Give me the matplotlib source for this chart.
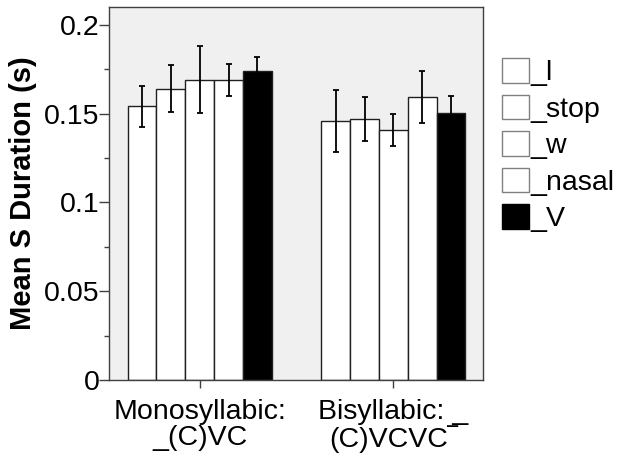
import numpy as np
import matplotlib.pyplot as plt
from matplotlib.ticker import MultipleLocator

plt.rcParams['font.family'] = ['Liberation Sans', 'DejaVu Sans']

# data
groups = ['Monosyllabic:\n_(C)VC', 'Bisyllabic: _\n(C)VCVC\u203e']
series = ['_l', '_stop', '_w', '_nasal', '_V']
means = [[0.154, 0.164, 0.169, 0.169, 0.1737],
         [0.1459, 0.1468, 0.1408, 0.1594, 0.1504]]
errs = [[0.0113, 0.0132, 0.0189, 0.009, 0.0084],
        [0.0173, 0.0124, 0.0088, 0.0148, 0.0096]]
faces = ['white', 'white', 'white', 'white', 'black']

means = np.array(means)
errs = np.array(errs)

fig = plt.figure(figsize=(6.21, 4.55), dpi=100)
ax = fig.add_axes([0.1763, 0.1648, 0.7778 - 0.1763, 0.9846 - 0.1648])
ax.set_facecolor('#f0f0f0')

x = np.arange(len(groups))
w = 0.1488
bars = []
for i, s in enumerate(series):
    pos = x + (i - 2) * w
    b = ax.bar(pos, means[:, i], w, color=faces[i], edgecolor='#202020',
               linewidth=1.0, zorder=2)
    ax.errorbar(pos, means[:, i], yerr=errs[:, i], fmt='none', ecolor='black',
                elinewidth=1.3, capsize=2.5, capthick=1.3, zorder=3)
    bars.append(b)

ax.set_xlim(-0.466, 1.463)
ax.set_ylim(0, 0.21)
ax.set_xticks(x)
ax.set_xticklabels(groups, fontsize=20.5, linespacing=1.0)
ax.yaxis.set_minor_locator(MultipleLocator(0.025))
ax.set_yticks([0, 0.05, 0.1, 0.15, 0.2])
ax.set_yticklabels(['0', '0.05', '0.1', '0.15', '0.2'], fontsize=20.5)
ax.tick_params(axis='x', which='major', direction='out', color='#404040',
               length=6, width=1, pad=8)
ax.tick_params(axis='y', which='major', direction='out', color='#404040',
               length=7, width=1, pad=0)
ax.tick_params(axis='y', which='minor', direction='out', color='#404040',
               length=3.6, width=1)
ax.tick_params(right=False, top=False)
for sp in ax.spines.values():
    sp.set_color('#404040')
    sp.set_linewidth(1)

ax.set_ylabel('Mean S Duration (s)', fontsize=21, fontweight='bold', labelpad=5)

handles = [b[0] for b in bars]
leg = fig.legend(handles, series, loc='upper left',
                 bbox_to_anchor=(502 / 621, 1 - 58 / 455),
                 frameon=False, fontsize=20.5, borderpad=0, borderaxespad=0,
                 handlelength=0.95, handleheight=0.95, handletextpad=0.05,
                 labelspacing=0.3)
for h, f in zip(leg.legend_handles, faces):
    h.set_edgecolor('#808080' if f == 'white' else 'black')

fig.savefig('out.png', dpi=100)
